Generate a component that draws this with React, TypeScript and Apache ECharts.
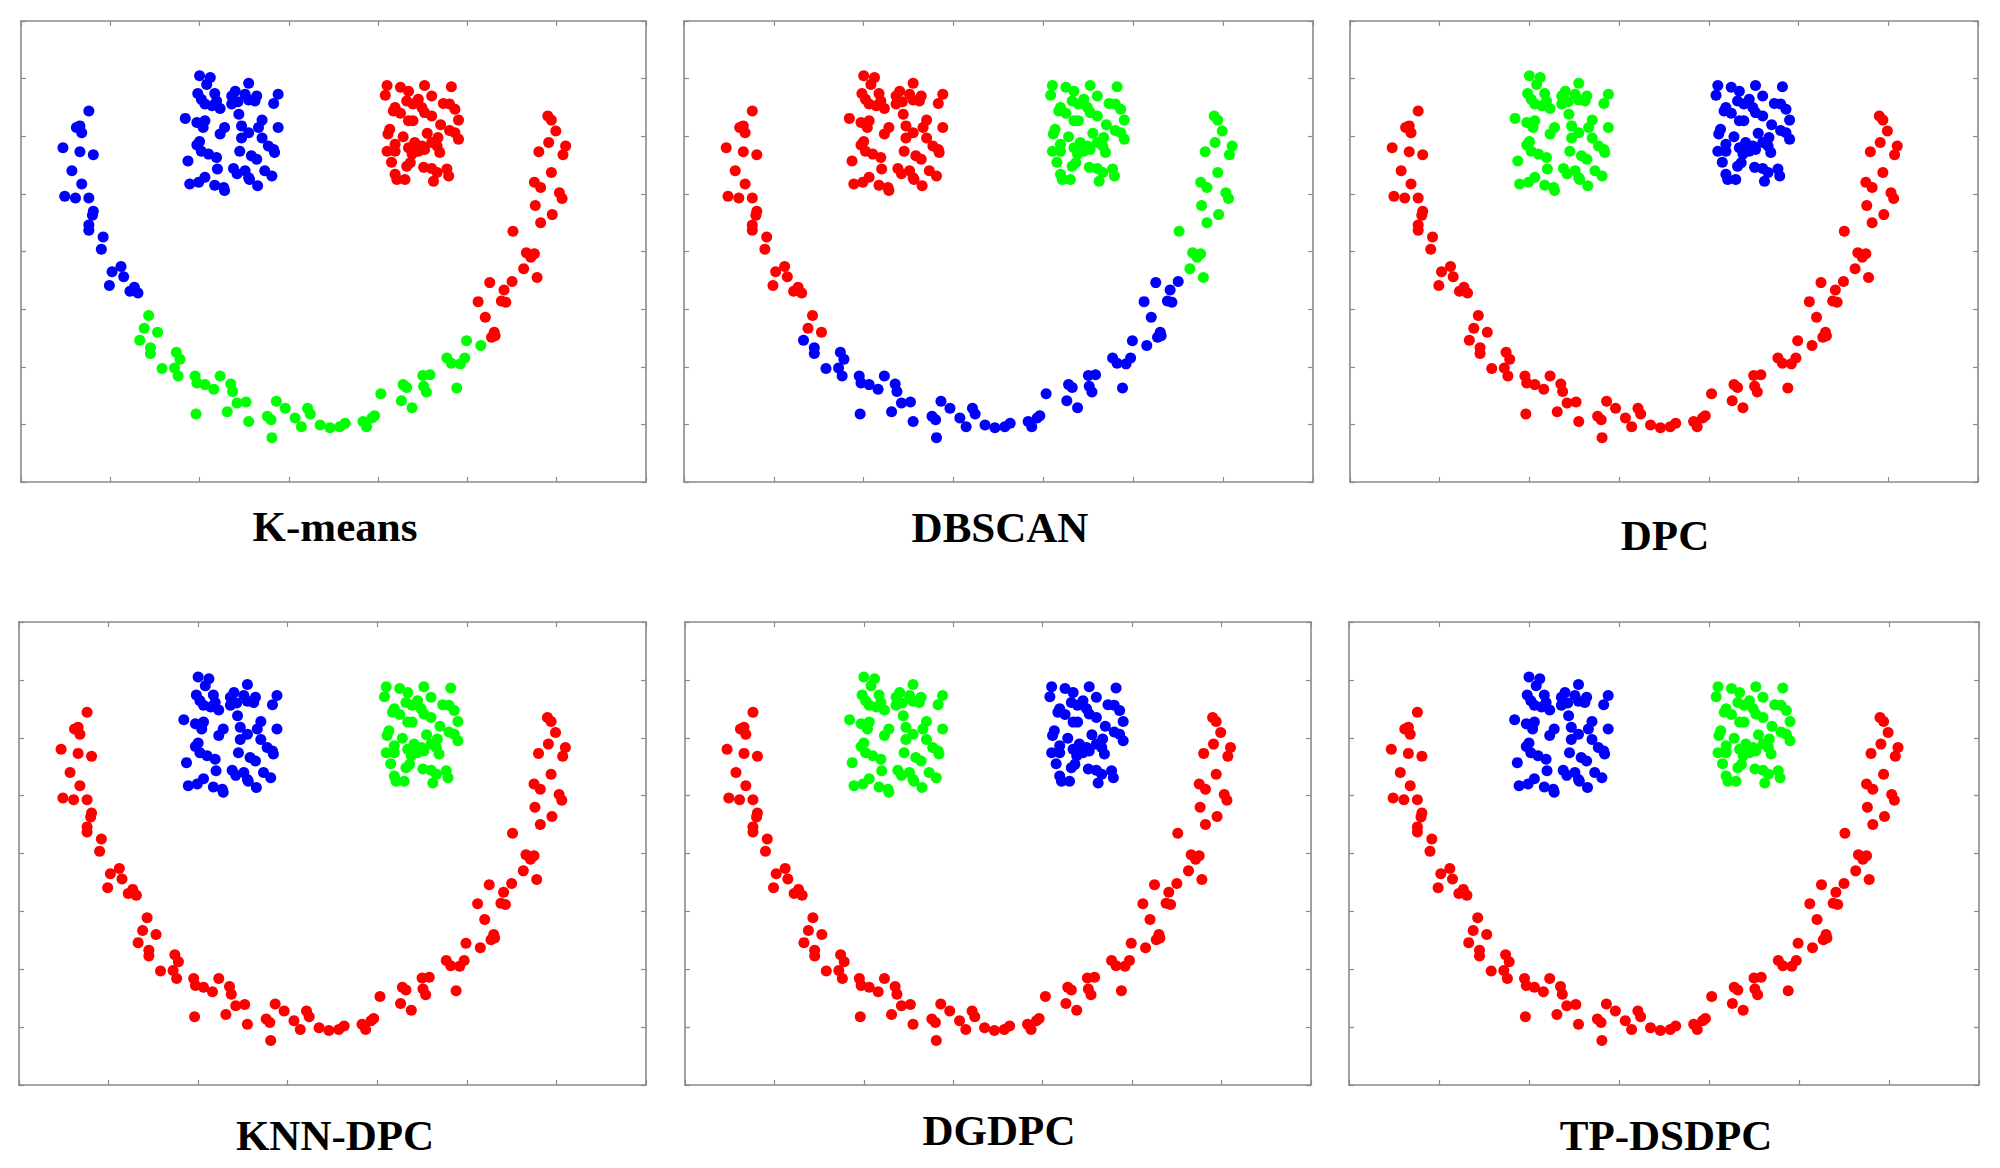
import React, { useEffect, useRef } from "react";
import * as echarts from "echarts";

// ---------- data (axis units: x 0..7, y 0..8) ----------
const leftCluster: number[][] = [
  [2.0, 7.05], [2.12, 7.02], [2.08, 6.9], [2.55, 6.92], [1.98, 6.74], [2.02, 6.64], [2.17, 6.74],
  [2.19, 6.61], [2.06, 6.56], [2.14, 6.53], [2.23, 6.48], [2.36, 6.7], [2.4, 6.78], [2.51, 6.73],
  [2.64, 6.7], [2.62, 6.61], [2.55, 6.63], [2.36, 6.56], [2.43, 6.6], [2.88, 6.73], [2.83, 6.57],
  [1.84, 6.31], [1.97, 6.24], [2.06, 6.27], [2.04, 6.15], [2.44, 6.38], [2.47, 6.18], [2.7, 6.28],
  [2.66, 6.15], [2.28, 6.15], [2.23, 6.04], [2.88, 6.15], [2.55, 6.06], [2.47, 5.97], [2.0, 5.91],
  [1.97, 5.85], [2.7, 5.97], [2.77, 5.83], [2.83, 5.77], [2.84, 5.72], [2.45, 5.74], [2.02, 5.74],
  [2.1, 5.69], [2.19, 5.63], [1.87, 5.57], [2.58, 5.66], [2.64, 5.6], [2.2, 5.43], [2.38, 5.44],
  [2.42, 5.35], [2.51, 5.4], [2.55, 5.28], [2.56, 5.25], [2.73, 5.4], [2.81, 5.31], [2.06, 5.29],
  [1.99, 5.2], [1.89, 5.17], [2.17, 5.15], [2.28, 5.06], [2.27, 5.11], [2.65, 5.14],
];

const rightCluster: number[][] = [
  [4.1, 6.88], [4.08, 6.71], [4.34, 6.78], [4.52, 6.88], [4.6, 6.7], [4.82, 6.86], [4.19, 6.5],
  [4.17, 6.44], [4.32, 6.61], [4.39, 6.56], [4.45, 6.64], [4.49, 6.5], [4.52, 6.41], [4.6, 6.35],
  [4.73, 6.57], [4.8, 6.56], [4.86, 6.47], [4.9, 6.28], [4.34, 6.27], [4.39, 6.27], [4.13, 6.12],
  [4.11, 6.04], [4.28, 5.99], [4.19, 5.86], [4.41, 5.89], [4.49, 5.83], [4.6, 5.89], [4.67, 5.98],
  [4.8, 6.1], [4.86, 6.06], [4.9, 5.95], [4.1, 5.74], [4.19, 5.74], [4.34, 5.8], [4.38, 5.69],
  [4.45, 5.74], [4.52, 5.77], [4.66, 5.83], [4.69, 5.72], [4.36, 5.54], [4.32, 5.48], [4.51, 5.46],
  [4.6, 5.44], [4.66, 5.37], [4.77, 5.43], [4.79, 5.31], [4.19, 5.34], [4.21, 5.25], [4.3, 5.25],
  [4.62, 5.22], [4.25, 6.85], [4.7, 6.2], [4.25, 6.4], [4.55, 6.05], [4.15, 5.55],
];

// left arm of the arc (upper part)
const arcA: number[][] = [
  [0.76, 6.44], [0.62, 6.15], [0.66, 6.18], [0.68, 6.06], [0.47, 5.8], [0.66, 5.73], [0.81, 5.68],
  [0.57, 5.4], [0.68, 5.17], [0.49, 4.96], [0.61, 4.93], [0.76, 4.93], [0.81, 4.7], [0.8, 4.63],
  [0.76, 4.46], [0.76, 4.37], [0.92, 4.25], [0.9, 4.04], [1.02, 3.65], [1.12, 3.74], [1.15, 3.56],
  [0.99, 3.41], [1.22, 3.31], [1.27, 3.38], [1.31, 3.28],
];

// left arm of the arc (lower transition)
const arcB: number[][] = [
  [1.43, 2.89], [1.38, 2.67], [1.53, 2.6],
];

// bottom of the arc
const arcC: number[][] = [
  [1.33, 2.46], [1.45, 2.33], [1.45, 2.23], [1.74, 2.25], [1.78, 2.13], [1.58, 1.97], [1.72, 1.98],
  [1.76, 1.84], [1.95, 1.84], [1.97, 1.72], [2.06, 1.69], [2.16, 1.61], [2.23, 1.84], [2.35, 1.7],
  [2.37, 1.57], [2.42, 1.37], [2.52, 1.39], [2.31, 1.22], [1.96, 1.18], [2.55, 1.05], [2.76, 1.14],
  [2.8, 1.08], [2.86, 1.4], [2.96, 1.28], [2.81, 0.77], [3.07, 1.11], [3.14, 0.96], [3.21, 1.28],
  [3.24, 1.18], [3.35, 0.99], [3.46, 0.94], [3.57, 0.96], [3.63, 1.02], [3.83, 1.05], [3.87, 0.96],
  [3.93, 1.11], [3.96, 1.15], [4.03, 1.53], [4.26, 1.41], [4.38, 1.29], [4.28, 1.69], [4.32, 1.64],
  [4.51, 1.66], [4.54, 1.56], [4.5, 1.85], [4.58, 1.86], [4.88, 1.63], [4.77, 2.15], [4.82, 2.06],
  [4.92, 2.05], [4.97, 2.15], [4.99, 2.45], [5.15, 2.37],
];

// right arm of the arc (lower part)
const arcD: number[][] = [
  [5.3, 2.6], [5.31, 2.54], [5.27, 2.51], [5.2, 2.86], [5.12, 3.13], [5.38, 3.14], [5.43, 3.12],
  [5.41, 3.33], [5.25, 3.46], [5.5, 3.48],
];

// right arm of the arc (upper part)
const arcE: number[][] = [
  [5.63, 3.7], [5.78, 3.55], [5.66, 3.98], [5.71, 3.9], [5.75, 3.96], [5.51, 4.35], [5.82, 4.5],
  [5.95, 4.64], [5.76, 4.8], [6.03, 5.02], [6.06, 4.92], [5.75, 5.2], [5.82, 5.11], [5.94, 5.37],
  [6.1, 5.83], [6.07, 5.68], [5.8, 5.73], [5.91, 5.89], [5.99, 6.09], [5.94, 6.28], [5.9, 6.35],
];

const segments = [leftCluster, rightCluster, arcA, arcB, arcC, arcD, arcE];

const methodNames = ["K-means", "DBSCAN", "DPC", "KNN-DPC", "DGDPC", "TP-DSDPC"];
// cluster colour per segment: leftCluster, rightCluster, arcA, arcB, arcC, arcD, arcE
const kmeansLabels = ["blue", "red", "blue", "green", "green", "red", "red"];
const dbscanLabels = ["red", "green", "red", "red", "blue", "blue", "green"];
const dpcLabels = ["green", "blue", "red", "red", "red", "red", "red"];
const knnDpcLabels = ["blue", "green", "red", "red", "red", "red", "red"];
const dgdpcLabels = ["green", "blue", "red", "red", "red", "red", "red"];
const tpDsdpcLabels = ["blue", "green", "red", "red", "red", "red", "red"];
const methodLabels = [kmeansLabels, dbscanLabels, dpcLabels, knnDpcLabels, dgdpcLabels, tpDsdpcLabels];

const clusterNames = ["red", "blue", "green"];
const colorMap: Record<string, string> = { red: "#ff0000", blue: "#0000ff", green: "#00ff00" };

// ---------- layout ----------
const panels = [
  { left: 21, top: 21, width: 625, height: 461, tx: 335, ty: 526 },
  { left: 684, top: 21, width: 629, height: 461, tx: 1000, ty: 527 },
  { left: 1350, top: 21, width: 628, height: 461, tx: 1665, ty: 535 },
  { left: 19, top: 622, width: 627, height: 463, tx: 335, ty: 1135 },
  { left: 685, top: 622, width: 626, height: 463, tx: 999, ty: 1130 },
  { left: 1349, top: 622, width: 630, height: 463, tx: 1666, ty: 1135 },
];

const AXIS_COLOR = "#8a8a8a";

function axisCommon(min: number, max: number) {
  return {
    type: "value",
    min,
    max,
    interval: 1,
    axisLine: { show: true, onZero: false, lineStyle: { color: AXIS_COLOR, width: 1.6 } },
    axisTick: { show: true, inside: true, length: 5, lineStyle: { color: AXIS_COLOR, width: 1.2 } },
    axisLabel: { show: false },
    splitLine: { show: false },
  };
}

export default function App() {
  const ref = useRef<HTMLDivElement>(null);
  useEffect(() => {
    if (!ref.current) return;
    const chart = echarts.init(ref.current, undefined, { renderer: "svg" });
    const grid: any[] = [];
    const xAxis: any[] = [];
    const yAxis: any[] = [];
    const series: any[] = [];
    const graphic: any[] = [];
    panels.forEach((p, i) => {
      grid.push({ left: p.left, top: p.top, width: p.width, height: p.height, containLabel: false });
      xAxis.push({ ...axisCommon(0, 7), gridIndex: i, position: "bottom" });
      xAxis.push({ ...axisCommon(0, 7), gridIndex: i, position: "top" });
      yAxis.push({ ...axisCommon(0, 8), gridIndex: i, position: "left" });
      yAxis.push({ ...axisCommon(0, 8), gridIndex: i, position: "right" });
      const labels = methodLabels[i];
      clusterNames.forEach((c) => {
        const data: number[][] = [];
        segments.forEach((seg, si) => {
          if (labels[si] === c) seg.forEach((pt) => data.push(pt));
        });
        series.push({
          type: "scatter",
          name: methodNames[i] + "-" + c,
          xAxisIndex: 2 * i,
          yAxisIndex: 2 * i,
          data,
          symbol: "circle",
          symbolSize: 11,
          itemStyle: { color: colorMap[c], opacity: 1 },
          silent: true,
        });
      });
      graphic.push({
        type: "text",
        x: p.tx,
        y: p.ty,
        style: {
          text: methodNames[i],
          fill: "#000",
          font: "bold 43px 'Liberation Serif', 'Times New Roman', serif",
          textAlign: "center",
          textVerticalAlign: "middle",
        },
      });
    });
    chart.setOption({
      animation: false,
      backgroundColor: "#ffffff",
      grid,
      xAxis,
      yAxis,
      series,
      graphic,
    });
    return () => chart.dispose();
  }, []);
  return (
    <div
      ref={ref}
      style={{ position: "fixed", left: 0, top: 0, width: 2000, height: 1168, background: "#fff" }}
    />
  );
}
